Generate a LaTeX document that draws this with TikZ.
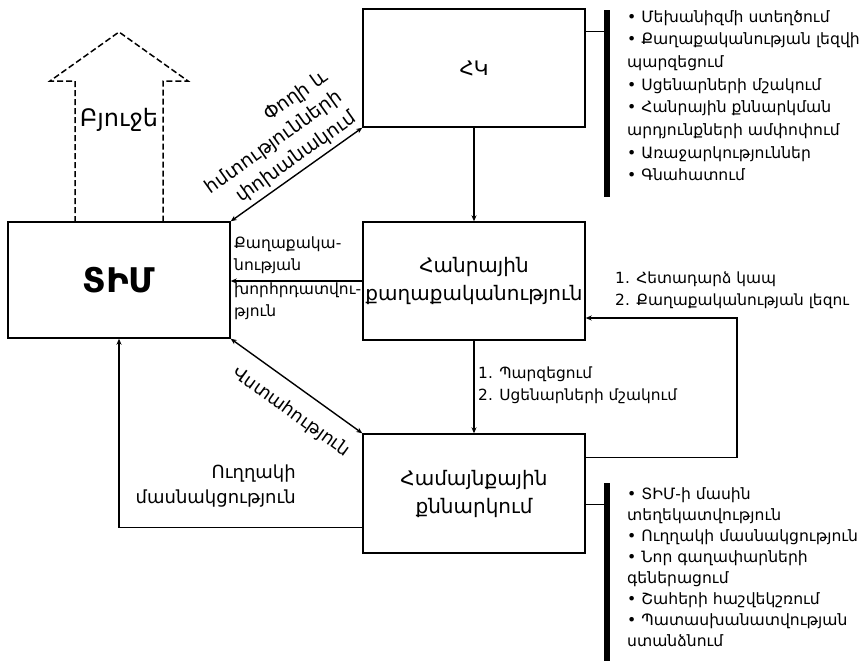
\documentclass[tikz,border=0pt]{standalone}
\usepackage{fontspec}
\setmainfont{DejaVu Sans}
\usetikzlibrary{calc,arrows.meta,positioning}

\begin{document}
\begin{tikzpicture}[x=1pt,y=-1pt]

  % Parameters
  \def\wblk{222pt}
  \def\hblk{118pt}

  % Styles
  \tikzstyle{block}=[draw,line width=1.4pt,minimum width=\wblk,minimum height=\hblk,inner sep=1pt,align=center,font=\fontsize{20}{28}\selectfont]
  \tikzstyle{flow}=[-{Stealth[length=6pt,width=5pt]},line width=1.4pt]
  \tikzstyle{dflow}=[{Stealth[length=6pt,width=5pt]}-{Stealth[length=6pt,width=5pt]},line width=1.4pt]
  \tikzstyle{link}=[line width=1.4pt]
  \tikzstyle{bar}=[line width=6pt]
  \tikzstyle{note}=[inner sep=0pt,align=left,font=\fontsize{15.6}{22.7}\selectfont]
  \tikzstyle{lab}=[inner sep=0pt,align=center,font=\fontsize{18}{25}\selectfont]
  \tikzstyle{budget}=[line width=1.5pt,dash pattern=on 6pt off 3pt]

  \useasboundingbox (0,0) rectangle (864,667);

  % ===========================================================================

  % Draw blocks
  \node[block] (hk) at (474,68) {ՀԿ};
  \node[block,minimum height=116pt,font=\fontsize{34}{40}\selectfont\bfseries] (tim) at (119,280) {ՏԻՄ};
  \node[block] (policy) at (474,281) {Հանրային\\քաղաքականություն};
  \node[block,minimum height=119pt] (forum) at (474,493.5) {Համայնքային\\քննարկում};

  % Budget arrow
  \draw[budget] (75,222) -- (75,81) -- (50,81) -- (119,32) -- (188,81) -- (163,81) -- (163,222);
  \node[lab,font=\fontsize{24}{28}\selectfont] (budgetlab) at (119,120) {Բյուջե};

  % Arrows between blocks
  \draw[flow] (hk) -- (policy);
  \draw[flow] (policy) -- (forum);
  \draw[dflow] (tim.north east) -- node[lab,sloped,above=4pt,align=right,font=\fontsize{19}{25}\selectfont] (moneylab) {Փողի և\\հմտությունների\\փոխանակում} (hk.south west);
  \draw[flow] (policy.west) -- (policy.west -| tim.east);
  \node[note,anchor=north west,font=\fontsize{15.5}{22}\selectfont] (advice1) at (234,237) {Քաղաքակա-\\նության};
  \node[note,anchor=north west,font=\fontsize{15.5}{22}\selectfont] (advice2) at (234,283) {խորհրդատվու-\\թյուն};
  \draw[dflow] (tim.south east) -- node[lab,sloped,below=15pt,pos=0.57] (trustlab) {Վստահություն} (forum.north west);

  % Direct participation
  \coordinate (dpout) at ($(forum.south west)+(0,-26)$);
  \draw[flow] (dpout) -| (tim.south);
  \node[lab,anchor=north east,align=right] (directlab) at (296,465) {Ուղղակի\\մասնակցություն};

  % Feedback loop
  \coordinate (fbout) at ($(forum.north east)+(0,24)$);
  \coordinate (fbturn) at (737,318);
  \coordinate (fbin) at (policy.east |- fbturn);
  \draw[flow] (fbout) -| (fbturn) -- (fbin);
  \node[note,anchor=north west,font=\fontsize{15.4}{22}\selectfont] (fblab) at (615,272) {1. Հետադարձ կապ\\2. Քաղաքականության լեզու};
  \node[note,anchor=north west,font=\fontsize{15.4}{22}\selectfont] (simplab) at (478,367) {1. Պարզեցում\\2. Սցենարների մշակում};

  % Task lists
  \coordinate (hktop) at (606.5,10);
  \coordinate (hkbot) at (606.5,197);
  \coordinate (hkout) at ($(hk.north east)+(0,23)$);
  \draw[bar] (hktop) -- (hkbot);
  \draw[link] (hkout) -- (hkout -| hktop);
  \node[note,anchor=north west] (hklist) at (627,10) {• Մեխանիզմի ստեղծում\\• Քաղաքականության լեզվի\\պարզեցում\\• Սցենարների մշակում\\• Հանրային քննարկման\\արդյունքների ամփոփում\\• Առաջարկություններ\\• Գնահատում};

  \coordinate (fotop) at (606.5,483);
  \coordinate (fobot) at (606.5,661);
  \coordinate (foout) at ($(forum.north east)+(0,71)$);
  \draw[bar] (fotop) -- (fobot);
  \draw[link] (foout) -- (foout -| fotop);
  \node[note,anchor=north west,font=\fontsize{15.6}{21}\selectfont] (folist) at (627,487) {• ՏԻՄ-ի մասին\\տեղեկատվություն\\• Ուղղակի մասնակցություն\\• Նոր գաղափարների\\գեներացում\\• Շահերի հաշվեկշռում\\• Պատասխանատվության\\ստանձնում};

\end{tikzpicture}
\end{document}
